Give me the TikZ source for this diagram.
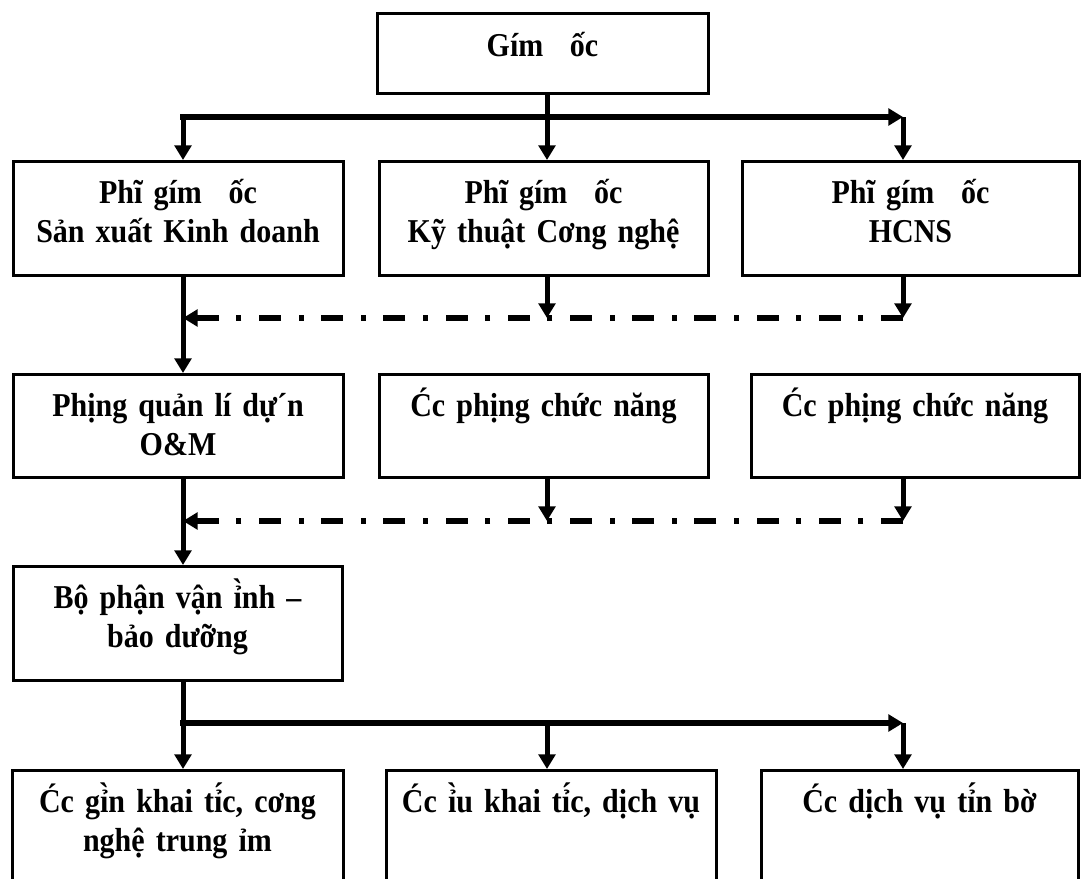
\documentclass[tikz,border=0pt]{standalone}
\usepackage{fontspec}
\setmainfont[FakeStretch=0.9,WordSpace=0.75]{Liberation Serif}
\usetikzlibrary{arrows.meta}
\begin{document}
\begin{tikzpicture}[x=0.75pt,y=-0.75pt,
  box/.style={draw, line width=2.25pt, anchor=north, inner xsep=0pt, inner ysep=0pt,
    align=center, text width=235pt, text height=31.5pt,
    font=\fontsize{25}{29.5}\selectfont\bfseries},
  tip/.style={-{Triangle[length=11pt,width=12.5pt]}},
  arr/.style={line width=3.75pt, tip},
  bar/.style={line width=5pt, tip, shorten <=-1.9pt},
  dd/.style={line width=5pt, tip, dash pattern=on 16.5pt off 13.2pt on 3.75pt off 13.2pt}]
\fill[white] (0,0) rectangle (1081,878);
\useasboundingbox (0,0) rectangle (1081,878);

% boxes
\node[box, minimum width=248.25pt, text height=32.25pt, text depth=27.75pt] (gd) at (542.5,12) {Gím\hspace{0.8em}ốc};

\node[box, minimum width=247.5pt,  text depth=54pt] (r2a) at (178,160)   {Phĩ gím\hspace{0.8em}ốc\\Sản xuất Kinh doanh};
\node[box, minimum width=246.75pt, text depth=54pt] (r2b) at (543.5,160) {Phĩ gím\hspace{0.8em}ốc\\Kỹ thuật Cơng nghệ};
\node[box, minimum width=252.75pt, text depth=54pt] (r2c) at (910.5,160) {Phĩ gím\hspace{0.8em}ốc\\HCNS};

\node[box, minimum width=247.5pt,  text depth=45.75pt] (r3a) at (178,373)   {Phịng quản lí dự´n\\O\&M};
\node[box, minimum width=246.75pt, text depth=45.75pt] (r3b) at (543.5,373) {Ćc phịng chức năng};
\node[box, minimum width=246pt,    text depth=45.75pt] (r3c) at (915,373)   {Ćc phịng chức năng};

\node[box, minimum width=246.75pt, text depth=54pt] (r4) at (177.5,565) {Bộ phận vận ỉ̀nh –\\bảo dưỡng};

\node[box, minimum width=248.25pt, text depth=73.5pt] (r5a) at (177.5,769) {Ćc gỉ̀n khai tỉ́c, cơng\\nghệ trung ỉm};
\node[box, minimum width=247.5pt,  text depth=73.5pt] (r5b) at (551,769)   {Ćc ỉ̀u khai tỉ́c, dịch vụ};
\node[box, minimum width=237.75pt, text depth=73.5pt] (r5c) at (919.5,769) {Ćc dịch vụ tỉ́n bờ};

% guide coordinates
\coordinate (cA) at (183,0);
\coordinate (cB) at (547,0);
\coordinate (cC) at (903,0);
\coordinate (h1) at (0,117);
\coordinate (d1) at (0,318);
\coordinate (d2) at (0,521);
\coordinate (h2) at (0,723);

% level 1 -> 2
\draw[arr] (gd.south -| cB) -- (r2b.north -| cB);
\draw[bar] (cA |- h1) -- (cC |- h1);
\draw[arr] (cA |- h1) -- (r2a.north -| cA);
\draw[arr] (cC |- h1) -- (r2c.north -| cC);

% level 2 -> 3
\draw[arr] (r2a.south -| cA) -- (r3a.north -| cA);
\draw[arr] (r2b.south -| cB) -- (cB |- d1);
\draw[arr] (r2c.south -| cC) -- (cC |- d1);
\draw[dd] (cC |- d1) -- (cA |- d1);

% level 3 -> 4
\draw[arr] (r3a.south -| cA) -- (r4.north -| cA);
\draw[arr] (r3b.south -| cB) -- (cB |- d2);
\draw[arr] (r3c.south -| cC) -- (cC |- d2);
\draw[dd] (cC |- d2) -- (cA |- d2);

% level 4 -> 5
\draw[arr] (r4.south -| cA) -- (r5a.north -| cA);
\draw[bar] (cA |- h2) -- (cC |- h2);
\draw[arr] (cB |- h2) -- (r5b.north -| cB);
\draw[arr] (cC |- h2) -- (r5c.north -| cC);
\end{tikzpicture}
\end{document}
